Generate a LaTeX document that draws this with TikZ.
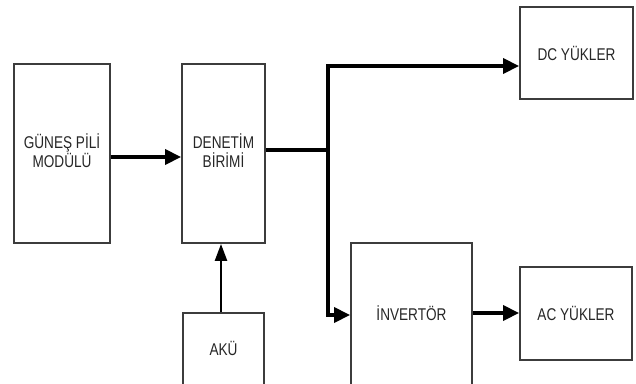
\documentclass[tikz,border=0pt]{standalone}
\usepackage{fontspec}
\setmainfont{Liberation Sans}
\usetikzlibrary{arrows.meta}
\definecolor{boxgray}{RGB}{60,60,60}
\tikzset{
  blk/.style={draw=boxgray, line width=1.8pt, inner sep=0pt, align=center},
  lbl/.style={inner sep=0pt, align=center, font=\fontsize{17}{19}\selectfont, xscale=0.8, text=black!85},
  flow/.style={line width=3.4pt, -{Triangle[length=16pt,width=15pt]}},
  thin/.style={line width=2.4pt, -{Triangle[length=17pt,width=12pt]}}
}
\begin{document}
\begin{tikzpicture}[x=1pt,y=-1pt]
\useasboundingbox (0,0) rectangle (636,383);
\clip (0,0) rectangle (636,383);
% boxes
\node[blk, minimum width=96pt, minimum height=179pt] (gun) at (62,153.5) {};
\node[blk, minimum width=83pt, minimum height=179pt] (den) at (223.5,153.5) {};
\node[blk, minimum width=113pt, minimum height=92pt] (dc) at (576.5,53) {};
\node[blk, minimum width=121pt, minimum height=160pt] (inv) at (411.5,323) {};
\node[blk, minimum width=112pt, minimum height=93pt] (ac) at (576,313.5) {};
\node[blk, minimum width=81pt, minimum height=90pt] (aku) at (223.5,358) {};
% labels
\node[lbl] at (62,151) {GÜNEŞ PİLİ\\MODÜLÜ};
\node[lbl] at (223.5,151) {DENETİM\\BİRİMİ};
\node[lbl] at (576.5,53) {DC YÜKLER};
\node[lbl] at (411.5,313) {İNVERTÖR};
\node[lbl] at (576,313) {AC YÜKLER};
\node[lbl] at (223.5,348) {AKÜ};
% connectors
\coordinate (j) at (328,150);
\draw[flow] (gun.east |- 0,157) -- (den.west |- 0,157);
\draw[line width=3.4pt] (den.east |- j) -- (j);
\draw[flow] (j) -- (328,66) -- (dc.west |- 0,66);
\draw[flow] (j) -- (328,315) -- (inv.west |- 0,315);
\draw[flow] (inv.east |- 0,313) -- (ac.west |- 0,313);
\draw[thin] (aku.north -| 221,0) -- (den.south -| 221,0);
\end{tikzpicture}
\end{document}
